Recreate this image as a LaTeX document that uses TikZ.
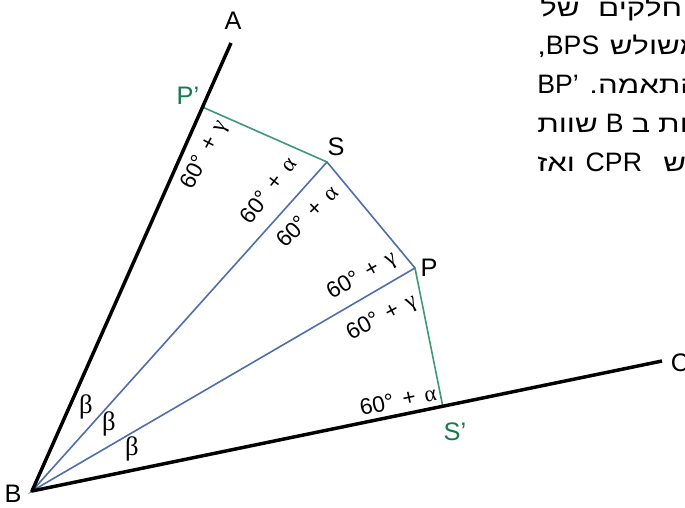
\documentclass[tikz,border=0pt]{standalone}
\usepackage{fontspec}
\usetikzlibrary{calc}
\setmainfont{Liberation Sans}
\newfontfamily\hebfont[Script=Hebrew,FakeStretch=1.3]{Liberation Sans}
\newfontfamily\grk{Liberation Serif}
\TeXXeTstate=1
\definecolor{RayBlue}{HTML}{4F6EAD}
\definecolor{SideGreen}{HTML}{3D9A75}
\definecolor{LabelGreen}{HTML}{18794A}
\newcommand\sixty[1]{60°\hspace{.4em}+\hspace{.4em}{\grk #1}}
\newcommand\lat[1]{{\fontsize{20}{20}\rmfamily #1}}

\begin{document}
\begin{tikzpicture}[x=0.75pt,y=-0.75pt,arm/.style={line width=2.6pt,line join=round},ray/.style={line width=1.2pt,RayBlue},side/.style={line width=1.2pt,SideGreen},pt/.style={font=\fontsize{19}{20}\selectfont,inner sep=0pt},gpt/.style={pt,text=LabelGreen},ang/.style={font=\fontsize{17}{18}\selectfont,inner sep=0pt},bet/.style={font=\fontsize{20}{20}\grk,inner sep=0pt},heb/.style={font=\fontsize{18}{20}\hebfont,anchor=base west,inner sep=0pt}]
\useasboundingbox (0,0) rectangle (685,507);
\fill[white] (0,0) rectangle (685,507);
% the angle ABC and the points
\coordinate (B) at (32,491);\coordinate (A) at (231,43);\coordinate (C) at (662,361);
\coordinate (S) at (327,162);\coordinate (P) at (415,268);
\coordinate (Pp) at ($(B)!0.857!(A)$);\coordinate (Sp) at ($(B)!0.652!(C)$);
\draw[ray] (B) -- (S) -- (P) -- cycle;
\draw[side] (Pp) -- (S);
\draw[side] (P) -- (Sp);
\draw[arm] (A) -- (B) -- (C);
% point labels
\node[pt] (lA) at (233,21) {A};\node[pt] (lB) at (13,494) {B};\node[pt] (lC) at (680,363) {C};
\node[pt] (lS) at (336,147) {S};\node[pt] (lP) at (429,268) {P};
\node[gpt] (lPp) at (188,96) {P’};\node[gpt] (lSp) at (455,432) {S’};
% angles
\node[ang,rotate=62] (g1) at (205,155) {\sixty{γ}};
\node[ang,rotate=52] (a1) at (268,190) {\sixty{α}};
\node[ang,rotate=45] (a2) at (307,216) {\sixty{α}};
\node[ang,rotate=30] (g2) at (362,276) {\sixty{γ}};
\node[ang,rotate=28] (g3) at (382,318) {\sixty{γ}};
\node[ang,rotate=12] (a3) at (398,400) {\sixty{α}};
\node[bet] (b1) at (86,407) {β};\node[bet] (b2) at (109,424) {β};\node[bet] (b3) at (132,449) {β};
% text on the right, cut by the edge
\node[heb] (h1) at (540,16) {\beginR לשני\hskip5pt חלקים\hskip14pt של\endR};
\node[heb] (h2) at (537,54) {\beginR משולש\hskip8pt \lat{BPS}\kern0pt,\endR};
\node[heb] (h3) at (537,93) {\beginR בהתאמה\kern0pt.\hskip8pt \lat{BP’}\endR};
\node[heb] (h4) at (537,132) {\beginR הזוויות\hskip6pt ב\hskip6pt \lat{B}\hskip6pt שוות\endR};
\node[heb] (h5) at (537,171) {\beginR משולש\hskip16pt \lat{CPR}\hskip8pt ואז\endR};
\end{tikzpicture}
\end{document}
